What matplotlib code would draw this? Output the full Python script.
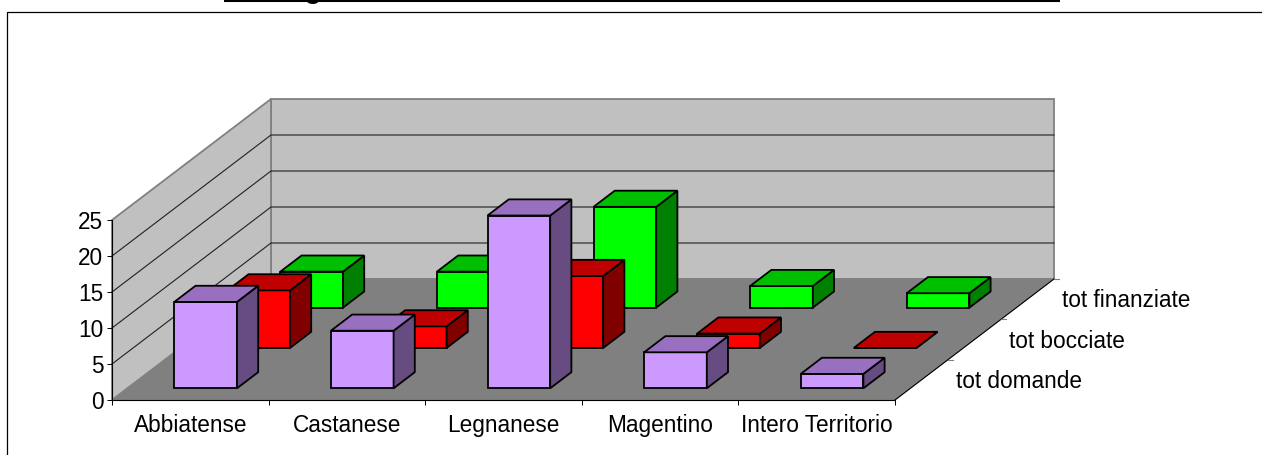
import matplotlib
matplotlib.use("Agg")
import matplotlib.pyplot as plt
from matplotlib.patches import Polygon, Rectangle

plt.rcParams['font.family'] = ['Liberation Sans', 'DejaVu Sans']

categories = ['Abbiatense', 'Castanese', 'Legnanese', 'Magentino', 'Intero Territorio']
series_names = ['tot domande', 'tot bocciate', 'tot finanziate']
tot_domande = [12, 8, 24, 5, 2]
tot_bocciate = [8, 3, 10, 2, 0]
tot_finanziate = [5, 5, 14, 3, 2]
value_ticks = [0, 5, 10, 15, 20, 25]

W, H = 1262, 455
# front plane of the 3d box in pixels
LEFT, RIGHT, BOTTOM, TOP = 112, 895, 400, 220
# how far the box goes back, one depth unit = one series row
SHIFT_X = 159 / 3 / ((RIGHT - LEFT) / 5)
SHIFT_Y = 121 / 3 / ((BOTTOM - TOP) / 25)
BAR_W = 0.4
BAR_D = 0.4

fig = plt.figure(figsize=(W / 100, H / 100), dpi=100)

# outer frame (right and bottom fall off the picture) and cut off title
bg = fig.add_axes([0, 0, 1, 1])
bg.set_xlim(0, W)
bg.set_ylim(H, 0)
bg.axis('off')
bg.add_patch(Rectangle((7, 12.2), 1270, 460, fill=False, ec='black', lw=0.9, clip_on=True))
bg.plot([224, 1060], [1, 1], color='black', lw=1.5, solid_capstyle='butt')
bg.text(313, -1.5, 'g', fontsize=19, fontweight='bold', ha='center', va='baseline', clip_on=True)

ax = fig.add_axes([LEFT / W, 1 - BOTTOM / H, (RIGHT - LEFT) / W, (BOTTOM - TOP) / H])
ax.set_xlim(0, 5)
ax.set_ylim(0, 25)
ax.patch.set_visible(False)


def pt(x, v, d):
    return (x + d * SHIFT_X, v + d * SHIFT_Y)


def face(points, color, z, lw=1.3, ec='black'):
    ax.add_patch(Polygon(points, closed=True, fc=color, ec=ec, lw=lw, zorder=z,
                         clip_on=False, joinstyle='miter'))


# walls and floor
face([pt(0, 0, 3), pt(5, 0, 3), pt(5, 25, 3), pt(0, 25, 3)], '#C0C0C0', 1, lw=1.3, ec='#808080')
face([pt(0, 0, 0), pt(0, 0, 3), pt(0, 25, 3), pt(0, 25, 0)], '#C0C0C0', 1, lw=1.3, ec='#808080')
face([pt(0, 0, 0), pt(5, 0, 0), pt(5, 0, 3), pt(0, 0, 3)], '#808080', 1, lw=0.5, ec='#808080')
for v in value_ticks[1:-1]:
    a, b, c = pt(0, v, 0), pt(0, v, 3), pt(5, v, 3)
    ax.plot([a[0], b[0], c[0]], [a[1], b[1], c[1]], color='#202020', lw=0.8, zorder=2, clip_on=False)
# right edge of the floor, going back
a, b = pt(5, 0, 0), pt(5, 0, 3)
ax.plot([a[0], b[0]], [a[1], b[1]], color='black', lw=0.8, zorder=2, clip_on=False)

# bars, back row first so the front ones cover them
rows = [(2, tot_finanziate, '#00FF00', '#00BF00', '#008000'),
        (1, tot_bocciate, '#FF0000', '#BF0000', '#800000'),
        (0, tot_domande, '#CC99FF', '#9970BF', '#664C80')]
z = 3
for row, values, front, top, side in rows:
    d0 = row + 0.29
    d1 = d0 + BAR_D
    for i, v in enumerate(values):
        x0 = i + 0.5 - BAR_W / 2
        x1 = x0 + BAR_W
        face([pt(x0, 0, d0), pt(x1, 0, d0), pt(x1, v, d0), pt(x0, v, d0)], front, z)
        face([pt(x1, 0, d0), pt(x1, 0, d1), pt(x1, v, d1), pt(x1, v, d0)], side, z)
        face([pt(x0, v, d0), pt(x1, v, d0), pt(x1, v, d1), pt(x0, v, d1)], top, z)
        z += 1

# axes
for s in ['top', 'right']:
    ax.spines[s].set_visible(False)
ax.spines['left'].set_linewidth(0.8)
ax.spines['bottom'].set_linewidth(0.8)
ax.spines['left'].set_zorder(50)
ax.spines['bottom'].set_zorder(50)
ax.set_yticks(value_ticks)
ax.set_xticks(range(6))
ax.set_xticklabels([])
ax.set_xticks([i + 0.5 for i in range(5)], minor=True)
ax.set_xticklabels(categories, minor=True, fontsize=16.3, color='black')
ax.tick_params(axis='x', which='minor', length=0, pad=10)
ax.tick_params(axis='x', which='major', length=3.8, width=0.7)
ax.tick_params(axis='y', length=3.8, width=0.7, labelsize=16.3, pad=2.5)

# series labels along the floor edge, with the small ticks between rows
for k in [1, 2, 3]:
    a = pt(5, 0, k)
    ax.plot([a[0], a[0] + 0.035], [a[1], a[1]], color='#808080', lw=0.8, zorder=2, clip_on=False)
for row, name in enumerate(series_names):
    ax.annotate(name, xy=pt(5, 0, row + 0.5), xytext=(24.5, -1.2), textcoords='offset points',
                fontsize=16.3, ha='left', va='center', annotation_clip=False)

fig.savefig('out.png', dpi=100)
